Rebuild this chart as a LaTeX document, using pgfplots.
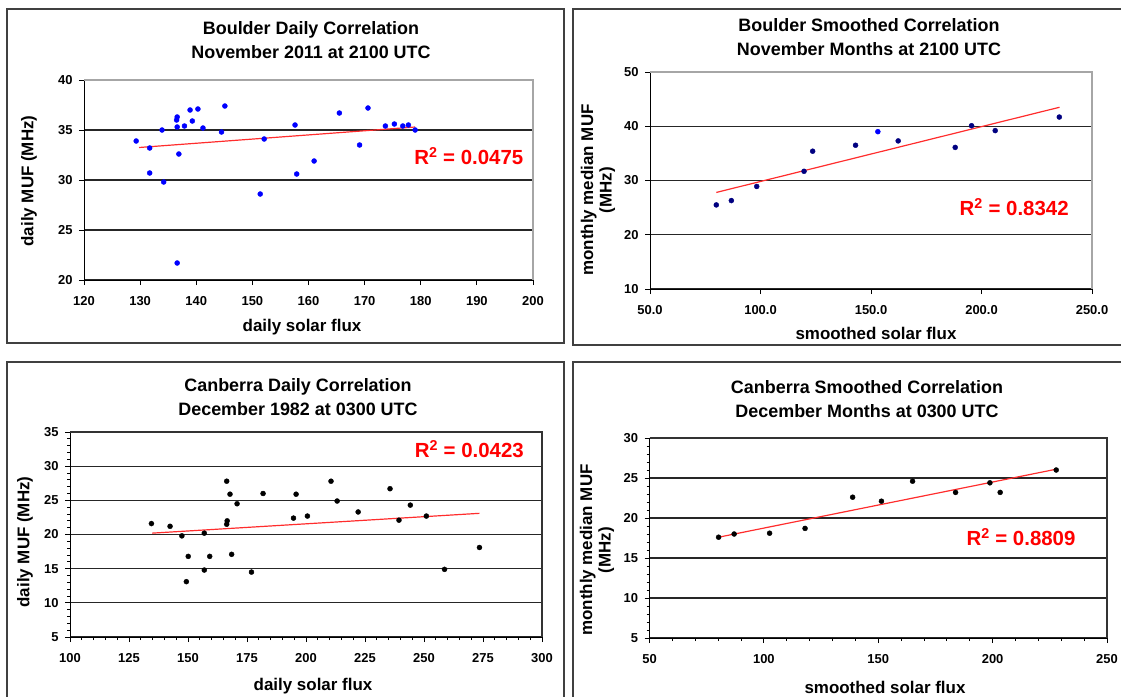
\documentclass[border=0pt]{standalone}
\usepackage{fontspec}
\setmainfont{Liberation Sans}
\usepackage{pgfplots}
\pgfplotsset{compat=1.18}

\definecolor{muf}{RGB}{0,0,255}
\definecolor{navyblue}{RGB}{0,0,128}
\definecolor{trend}{RGB}{255,45,45}
\definecolor{rtext}{RGB}{255,0,0}

\newcommand\tickfont{\bfseries\fontsize{13}{15}\selectfont}
\newcommand\labfont{\bfseries\fontsize{17}{17}\selectfont}
\newcommand\twolabfont{\bfseries\fontsize{17}{18.5}\selectfont}
\newcommand\titfont{\bfseries\fontsize{18}{24}\selectfont}
\newcommand\rfont{\bfseries\fontsize{20.5}{22}\selectfont}

\pgfplotsset{
  xlpanel/.style={
    scale only axis, anchor=south west,
    axis x line*=bottom, axis y line*=left,
    axis line style={black, line width=1bp},
    tick align=outside, major tick length=5bp, minor tick length=3bp,
    tick style={black, line width=0.9bp},
    ymajorgrids, major grid style={black!85, line width=1.2bp},
    ticklabel style={font=\tickfont},
    xticklabel style={yshift=-8bp},
    yticklabel style={xshift=-3bp},
    /pgf/number format/assume math mode=true,
    clip=false,
  },
  pts/.style={only marks, mark=*, mark size=2.5bp},
  fit/.style={no marks, draw=trend, line width=1.2bp},
}

\begin{document}
\begin{tikzpicture}
\useasboundingbox (0,0) rectangle (1121bp,-697bp);
% panel frames
\draw[black!75, line width=1.5bp] (7bp,-9bp) rectangle (564bp,-343bp);
\draw[black!75, line width=1.5bp] (573bp,-9bp) rectangle (1135bp,-345bp);
\draw[black!75, line width=1.5bp] (7bp,-362bp) rectangle (564bp,-710bp);
\draw[black!75, line width=1.5bp] (573bp,-362bp) rectangle (1135bp,-710bp);

% Boulder daily
\begin{axis}[xlpanel, at={(84bp,-280bp)}, width=449bp, height=200bp,
  xmin=120, xmax=200, ymin=20, ymax=40,
  xtick={120,130,...,200}, ytick={20,25,...,40}]
\addplot[pts, color=muf] coordinates {
  (129.3,33.9) (131.7,33.2) (131.7,30.7) (133.9,35.0) (134.2,29.8)
  (136.5,36.0) (136.6,36.3) (136.6,35.3) (136.9,32.6) (136.6,21.7)
  (137.9,35.4) (138.9,37.0) (139.3,35.9) (140.3,37.1) (141.2,35.2)
  (144.5,34.8) (145.1,37.4) (151.4,28.6) (152.1,34.1) (157.6,35.5)
  (157.9,30.6) (161.0,31.9) (165.5,36.7) (169.1,33.5) (170.6,37.2)
  (173.7,35.4) (175.3,35.6) (176.8,35.4) (177.8,35.5) (179.0,35.0)
};
\addplot[fit] coordinates {(129.8,33.25) (179.0,35.3)};
\draw[gray!70, line width=1.2bp] (rel axis cs:0,1) -- (rel axis cs:1,1) -- (rel axis cs:1,0);
\node[text=rtext, font=\rfont] at (rel axis cs:0.857,0.62) {R\textsuperscript{2} = 0.0475};
\end{axis}

% Boulder smoothed
\begin{axis}[xlpanel, at={(650bp,-289bp)}, width=442bp, height=217bp,
  xmin=50, xmax=250, ymin=10, ymax=50,
  xtick={50,100,...,250}, ytick={10,20,...,50},
  xticklabel style={/pgf/number format/.cd, fixed, fixed zerofill, precision=1}]
\addplot[pts, color=navyblue] coordinates {
  (80.0,25.5) (86.8,26.3) (98.3,28.9) (119.7,31.7) (123.6,35.4)
  (143.0,36.5) (162.3,37.3) (188.1,36.1) (195.5,40.1) (206.2,39.2)
  (235.2,41.7)
};
\addplot[pts, color=muf] coordinates {(153.1,39.0)};
\addplot[fit] coordinates {(80.0,27.8) (235.3,43.5)};
\draw[gray!70, line width=1.2bp] (rel axis cs:0,1) -- (rel axis cs:1,1) -- (rel axis cs:1,0);
\node[text=rtext, font=\rfont] at (rel axis cs:0.824,0.378) {R\textsuperscript{2} = 0.8342};
\end{axis}

% Canberra daily
\begin{axis}[xlpanel, at={(70bp,-637bp)}, width=472bp, height=205bp,
  xmin=100, xmax=300, ymin=5, ymax=35,
  xtick={100,125,...,300}, ytick={5,10,...,35},
  minor x tick num=4, minor y tick num=4]
\addplot[pts, color=black] coordinates {
  (134.5,21.6) (142.4,21.2) (147.4,19.8) (149.3,13.1) (150.1,16.8)
  (156.9,20.2) (156.9,14.8) (159.2,16.8) (166.4,27.8) (166.6,22.0)
  (166.4,21.5) (167.8,25.9) (168.5,17.1) (170.8,24.5) (176.9,14.5)
  (181.8,26.0) (194.7,22.4) (195.8,25.9) (200.6,22.7) (210.6,27.8)
  (213.2,24.9) (222.1,23.3) (235.6,26.7) (239.4,22.1) (244.2,24.3)
  (251.0,22.7) (258.7,14.9) (273.5,18.1)
};
\addplot[fit] coordinates {(134.8,20.2) (273.5,23.1)};
\draw[black!80, line width=1.2bp] (rel axis cs:0,1) -- (rel axis cs:1,1) -- (rel axis cs:1,0);
\node[text=rtext, font=\rfont] at (rel axis cs:0.846,0.917) {R\textsuperscript{2} = 0.0423};
\end{axis}

% Canberra smoothed
\begin{axis}[xlpanel, at={(649.5bp,-638bp)}, width=457.5bp, height=200bp,
  xmin=50, xmax=250, ymin=5, ymax=30,
  xtick={50,100,...,250}, ytick={5,10,...,30},
  minor x tick num=4, minor y tick num=4]
\addplot[pts, color=black] coordinates {
  (80.2,17.6) (87.0,18.0) (102.5,18.1) (118.0,18.7) (138.8,22.6)
  (151.4,22.1) (165.0,24.6) (183.8,23.2) (198.8,24.4) (203.3,23.2)
  (227.8,26.0)
};
\addplot[fit] coordinates {(80.2,17.6) (227.8,26.1)};
\draw[black!80, line width=1.2bp] (rel axis cs:0,1) -- (rel axis cs:1,1) -- (rel axis cs:1,0);
\node[text=rtext, font=\rfont] at (rel axis cs:0.812,0.505) {R\textsuperscript{2} = 0.8809};
\end{axis}

% titles and axis labels
\node[font=\titfont, align=center] at (311bp,-40bp) {Boulder Daily Correlation\\November 2011 at 2100 UTC};
\node[font=\labfont] at (302bp,-327bp) {daily solar flux};
\node[font=\labfont, rotate=90] at (29bp,-181bp) {daily MUF (MHz)};

\node[font=\titfont, align=center] at (869bp,-37bp) {Boulder Smoothed Correlation\\November Months at 2100 UTC};
\node[font=\labfont] at (876bp,-333bp) {smoothed solar flux};
\node[font=\twolabfont, rotate=90, align=center] at (598bp,-190bp) {monthly median MUF\\(MHz)};

\node[font=\titfont, align=center] at (298bp,-397bp) {Canberra Daily Correlation\\December 1982 at 0300 UTC};
\node[font=\labfont] at (313bp,-686bp) {daily solar flux};
\node[font=\labfont, rotate=90] at (25bp,-542bp) {daily MUF (MHz)};

\node[font=\titfont, align=center] at (867bp,-399bp) {Canberra Smoothed Correlation\\December Months at 0300 UTC};
\node[font=\labfont] at (885bp,-687bp) {smoothed solar flux};
\node[font=\twolabfont, rotate=90, align=center] at (597bp,-550bp) {monthly median MUF\\(MHz)};
\end{tikzpicture}
\end{document}
